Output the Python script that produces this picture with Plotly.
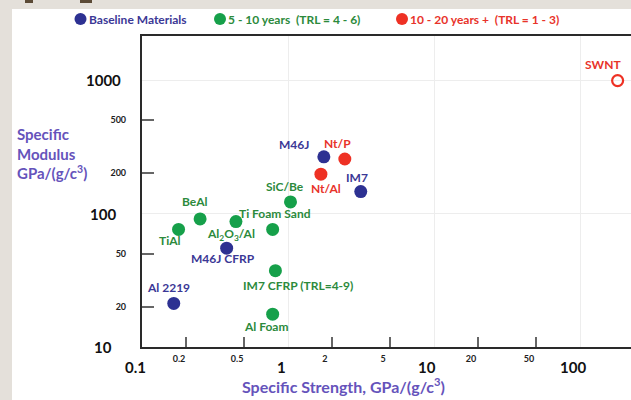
import numpy as np
import plotly.graph_objects as go

# ---------------- data ----------------
materials = ["M46J", "IM7", "M46J CFRP", "Al 2219",
             "SiC/Be", "BeAl", "Al<sub>2</sub>O<sub>3</sub>/Al", "TiAl", "Ti Foam Sand",
             "IM7 CFRP (TRL=4-9)", "Al Foam",
             "Nt/P", "Nt/Al", "SWNT"]
strength = [1.76, 3.15, 0.38, 0.165,
            1.04, 0.25, 0.44, 0.178, 0.785,
            0.82, 0.785,
            2.45, 1.68, 181]
modulus = [266, 146, 55, 21.2,
           122, 91, 87, 76, 76,
           37.3, 17.6,
           256, 197, 990]
group = ["base", "base", "base", "base",
         "mid", "mid", "mid", "mid", "mid",
         "mid", "mid",
         "far", "far", "far"]
open_points = ["SWNT"]

legend_names = {"base": "Baseline Materials",
                "mid": "5 - 10 years&nbsp;&nbsp;(TRL = 4 - 6)",
                "far": "10 - 20 years +&nbsp;&nbsp;(TRL = 1 - 3)"}

x_minor_vals = [0.2, 0.5, 2, 5, 20, 50]
x_minor_text = ["0.2", "0.5", "2", "5", "20", "50"]
x_major_vals = [0.1, 1, 10, 100]
x_major_text = ["0.1", "1", "10", "100"]
y_minor_vals = [20, 50, 200, 500]
y_minor_text = ["20", "50", "200", "500"]
y_major_vals = [10, 100, 1000]
y_major_text = ["10", "100", "1000"]

# ---------------- style ----------------
W, H = 631, 400
L, R, T, B = 142, 0, 36, 53
PW, PH = W - L - R, H - T - B
FONT = "Lato"
marker_col = {"base": "#2d3192", "mid": "#16a04a", "far": "#ee3124"}
text_col = {"base": "#3b3896", "mid": "#2c8a3c", "far": "#e8332a"}
title_col = "#6553bb"

# label offsets (pixels) relative to the point
label_shift = {
    "M46J": (-30, 12), "IM7": (-4, 14), "M46J CFRP": (-4, -10), "Al 2219": (-5, 16),
    "SiC/Be": (-5, 15), "BeAl": (-6, 17), "Al<sub>2</sub>O<sub>3</sub>/Al": (-5, -13),
    "TiAl": (-9, -11), "Ti Foam Sand": (2, 16), "IM7 CFRP (TRL=4-9)": (23, -15),
    "Al Foam": (-6, -12), "Nt/P": (-7, 16), "Nt/Al": (5, -14), "SWNT": (-15, 16),
}

def px(xp):
    return (xp - L) / PW

def py(yp):
    return (H - B - yp) / PH

fig = go.Figure()

for g in ["base", "mid", "far"]:
    idx = [i for i, gg in enumerate(group) if gg == g]
    for hollow in (False, True):
        sel = [i for i in idx if (materials[i] in open_points) == hollow]
        if not sel:
            continue
        fig.add_trace(go.Scatter(
            x=[strength[i] for i in sel], y=[modulus[i] for i in sel],
            mode="markers", showlegend=False, hoverinfo="skip",
            marker=dict(
                symbol="circle-open" if hollow else "circle",
                size=11 if hollow else 13,
                color=marker_col[g],
                line=dict(color=marker_col[g], width=2.2 if hollow else 0),
            ),
        ))

annotations = []
for i, name in enumerate(materials):
    dx, dy = label_shift[name]
    annotations.append(dict(
        x=np.log10(strength[i]), y=np.log10(modulus[i]), xref="x", yref="y",
        text=name, showarrow=False, xshift=dx, yshift=dy,
        font=dict(family=FONT, size=12, color=text_col[group[i]], weight="bold"),
    ))

# major (decade) tick labels
for v, t in zip(x_major_vals, x_major_text):
    annotations.append(dict(
        x=np.log10(v), xref="x", y=0, yref="paper", yshift=-20, xshift=-7,
        text=t, showarrow=False, xanchor="center", yanchor="middle",
        font=dict(family=FONT, size=15, color="#111", weight="bold")))
for v, t in zip(y_major_vals, y_major_text):
    annotations.append(dict(
        x=px(103), xref="paper", y=np.log10(v), yref="y",
        text=t, showarrow=False, xanchor="center", yanchor="middle",
        font=dict(family=FONT, size=15, color="#111", weight="bold")))

# axis titles
annotations.append(dict(
    x=px(343), y=py(385), xref="paper", yref="paper", showarrow=False,
    text="Specific Strength, GPa/(g/c<sup>3</sup>)", xanchor="center", yanchor="middle",
    font=dict(family=FONT, size=16, color=title_col, weight="bold")))
annotations.append(dict(
    x=px(15), y=py(153), xref="paper", yref="paper", showarrow=False, align="left",
    text="Specific<br>Modulus<br>GPa/(g/c<sup>3</sup>)", xanchor="left", yanchor="middle",
    font=dict(family=FONT, size=15, color=title_col, weight="bold")))

# manual legend
shapes = []
legend_pos = {"base": 80.5, "mid": 220, "far": 402}
for g, cx in legend_pos.items():
    shapes.append(dict(type="circle", xref="paper", yref="paper",
                       xsizemode="pixel", ysizemode="pixel",
                       xanchor=px(cx), yanchor=py(19),
                       x0=-6, x1=6, y0=-6, y1=6,
                       fillcolor=marker_col[g], line=dict(width=0)))
    annotations.append(dict(
        x=px(cx + 6), y=py(19), xref="paper", yref="paper", showarrow=False,
        text=legend_names[g], xanchor="left", yanchor="middle",
        font=dict(family=FONT, size=12, color=text_col[g], weight="bold")))

# slide background: white panel on grey frame
shapes.insert(0, dict(type="rect", xref="paper", yref="paper", layer="below",
                      x0=px(12), x1=px(W + 5), y0=py(H + 5), y1=py(9),
                      fillcolor="white", line=dict(width=0)))
for x0, x1 in [(25, 33), (80, 92)]:
    shapes.append(dict(type="rect", xref="paper", yref="paper", layer="below",
                       x0=px(x0), x1=px(x1), y0=py(3), y1=py(-2),
                       fillcolor="#5b4a36", line=dict(width=0)))

fig.update_layout(
    width=W, height=H,
    margin=dict(l=L, r=R, t=T, b=B, pad=0),
    paper_bgcolor="#e4e0da", plot_bgcolor="white",
    showlegend=False,
    annotations=annotations, shapes=shapes,
    xaxis=dict(
        type="log", range=[-1, -1 + PW / 146.0],
        tickmode="array", tickvals=x_minor_vals, ticktext=x_minor_text,
        ticks="inside", ticklen=10, tickwidth=1.5, tickcolor="#666",
        tickfont=dict(family=FONT, size=9, color="#222", weight="bold"),
        ticklabelshift=-7, ticklabelstandoff=2,
        showgrid=False, zeroline=False,
        showline=True, linewidth=2.2, linecolor="#2a2a2a", mirror=True,
        minor=dict(tickmode="array", tickvals=x_major_vals, ticks="",
                   showgrid=True, gridcolor="#ededed", gridwidth=1),
    ),
    yaxis=dict(
        type="log", range=[1, 1 + PH / 133.5],
        tickmode="array", tickvals=y_minor_vals, ticktext=y_minor_text,
        ticks="inside", ticklen=12, tickwidth=1.5, tickcolor="#666",
        tickfont=dict(family=FONT, size=9, color="#222", weight="bold"),
        ticklabelstandoff=12,
        showgrid=False, zeroline=False,
        showline=True, linewidth=2.2, linecolor="#2a2a2a", mirror=False,
        minor=dict(tickmode="array", tickvals=y_major_vals, ticks="",
                   showgrid=True, gridcolor="#ededed", gridwidth=1),
    ),
)

fig.write_html(
    "out.html",
    config={"displayModeBar": False},
    post_script="document.body.style.margin='0';document.body.style.background='#e4e0da';",
)
